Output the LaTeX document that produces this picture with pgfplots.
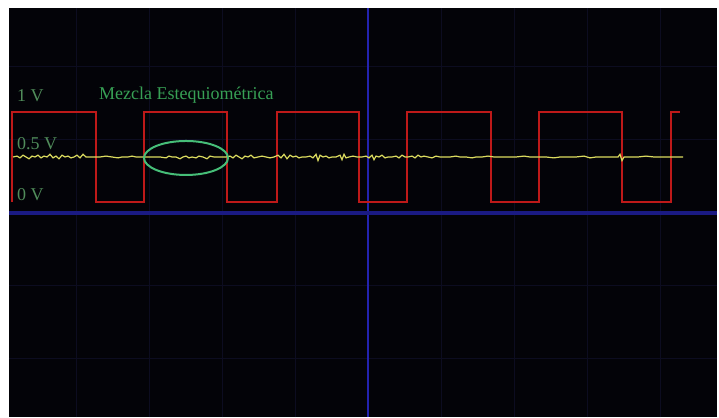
\documentclass[border=0pt]{standalone}
\usepackage{pgfplots}
\pgfplotsset{compat=1.18}
\usepackage{fontspec}
\setmainfont{Liberation Serif}
\definecolor{scred}{RGB}{190,25,25}
\definecolor{scyel}{RGB}{220,220,95}
\definecolor{scgreen}{RGB}{55,160,85}
\definecolor{sclab}{RGB}{80,140,90}
\definecolor{scell}{RGB}{70,190,120}
\definecolor{scblue}{RGB}{35,35,175}
\definecolor{scgrid}{RGB}{12,12,32}
\definecolor{scbg}{RGB}{3,3,8}
\begin{document}
\begin{tikzpicture}
\begin{axis}[
  scale only axis, width=719pt, height=417pt,
  xmin=0, xmax=719, ymin=-2.3889, ymax=2.2444,
  hide axis, clip=true]
% screen background
\fill[scbg] (axis cs:9,-2.3889) rectangle (axis cs:717,2.156);
% faint graticule
\pgfplotsinvokeforeach{76,149,222,295,441,514,587,660}{
  \draw[scgrid, line width=1pt] (axis cs:#1,-2.3889) -- (axis cs:#1,2.156);
}
\pgfplotsinvokeforeach{1.5,0.689,-0.933,-1.744}{
  \draw[scgrid, line width=1pt] (axis cs:9,#1) -- (axis cs:717,#1);
}
% main blue axes
\addplot[scblue, line width=2.5pt, forget plot] coordinates {(368,-2.3889) (368,2.156)};
\addplot[scblue!75!black, line width=3.5pt, forget plot] coordinates {(9,-0.122) (717,-0.122)};
% red square wave
\addplot[scred, line width=1.4pt, line join=miter] coordinates {
(12,0) (12,1.0) (96,1.0) (96,0) (144,0) (144,1.0) (227,1.0) (227,0)
(277,0) (277,1.0) (359,1.0) (359,0) (407,0) (407,1.0) (491,1.0) (491,0)
(539,0) (539,1.0) (622,1.0) (622,0) (671,0) (671,1.0) (680,1.0)
};
% yellow (lambda sensor) trace
\addplot[scyel, line width=1.2pt] coordinates {
(13,0.50) (17,0.51) (20,0.49) (23,0.52) (26,0.50) (29,0.48) (32,0.51) (35,0.50)
(38,0.52) (41,0.49) (44,0.51) (47,0.50) (50,0.53) (53,0.49) (56,0.51) (59,0.48)
(62,0.52) (65,0.50) (68,0.51) (71,0.49) (74,0.50) (77,0.52) (80,0.49) (83,0.53)
(86,0.50) (90,0.50) (95,0.50) (100,0.50) (106,0.51) (112,0.50) (118,0.49) (122,0.50)
(128,0.50) (132,0.51) (136,0.50) (142,0.50) (148,0.50) (154,0.50) (160,0.50) (166,0.49)
(169,0.51) (172,0.50) (176,0.50) (180,0.48) (183,0.50) (186,0.51) (189,0.49) (192,0.50)
(196,0.49) (199,0.51) (203,0.50) (207,0.48) (210,0.51) (214,0.50) (220,0.50) (226,0.50)
(230,0.51) (233,0.49) (236,0.52) (239,0.50) (242,0.48) (245,0.51) (248,0.50) (251,0.52)
(254,0.49) (258,0.50) (262,0.51) (266,0.50) (270,0.49) (274,0.50) (278,0.52) (281,0.49)
(284,0.53) (287,0.48) (290,0.52) (293,0.50) (296,0.51) (299,0.49) (302,0.50) (306,0.50)
(310,0.51) (313,0.49) (316,0.53) (318,0.46) (320,0.52) (323,0.50) (326,0.51) (329,0.49)
(332,0.50) (336,0.50) (340,0.52) (342,0.47) (344,0.53) (346,0.49) (349,0.50) (353,0.51)
(357,0.50) (362,0.50) (366,0.51) (369,0.49) (372,0.52) (374,0.47) (376,0.51) (379,0.50)
(382,0.52) (385,0.49) (388,0.50) (392,0.50) (396,0.51) (399,0.49) (402,0.52) (405,0.50)
(408,0.50) (412,0.51) (415,0.49) (418,0.52) (421,0.50) (424,0.51) (428,0.50) (432,0.49)
(436,0.51) (440,0.50) (444,0.50) (450,0.50) (456,0.51) (460,0.50) (466,0.50) (472,0.49)
(476,0.50) (482,0.50) (488,0.51) (494,0.50) (500,0.50) (508,0.50) (516,0.50) (524,0.51)
(530,0.50) (538,0.50) (546,0.50) (554,0.49) (560,0.50) (568,0.50) (576,0.50) (584,0.51)
(590,0.49) (596,0.50) (604,0.50) (612,0.50) (618,0.50) (620,0.53) (622,0.46) (624,0.50)
(630,0.50) (638,0.50) (646,0.51) (654,0.50) (662,0.50) (670,0.50) (676,0.50) (683,0.50)
};
% highlight ellipse
\draw[scell, line width=2pt] (axis cs:186,0.489) ellipse [x radius=42pt, y radius=17pt];
% labels
\node[anchor=west, sclab, inner sep=0pt, font=\fontsize{18}{20}\selectfont] at (axis cs:17,1.183) {1 V};
\node[anchor=west, sclab, inner sep=0pt, font=\fontsize{18}{20}\selectfont] at (axis cs:17,0.65) {0.5 V};
\node[anchor=west, sclab, inner sep=0pt, font=\fontsize{18}{20}\selectfont] at (axis cs:17,0.078) {0 V};
\node[anchor=west, scgreen, inner sep=0pt, font=\fontsize{18}{20}\selectfont] at (axis cs:99,1.19) {Mezcla Estequiométrica};
\end{axis}
\path (current axis.south west) rectangle (current axis.north east);
\end{tikzpicture}
\end{document}
